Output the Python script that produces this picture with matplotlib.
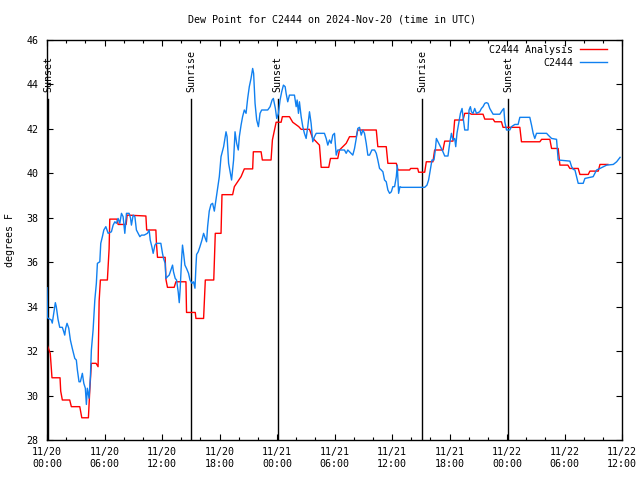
import matplotlib
matplotlib.use("Agg")
import matplotlib.pyplot as plt

# hours since 11/20 00:00 UTC, dew point in degrees F
analyse_t = [0.0, 0.34, 0.52, 1.36, 1.43, 1.6, 2.37, 2.54, 3.42, 3.63, 4.32, 4.46, 4.63,
             5.12, 5.33, 5.44, 5.57, 6.30, 6.48, 6.55, 7.32, 7.42, 8.26, 8.36, 10.32, 10.40,
             11.36, 11.42, 11.53, 12.33, 12.41, 12.57, 13.27, 13.45, 14.50, 14.56, 15.47,
             15.54, 16.34, 16.52, 17.40, 17.56, 18.16, 18.26, 19.37, 19.55, 20.25, 20.59,
             21.46, 21.53, 22.34, 22.47, 23.38, 23.52, 23.91, 24.43, 24.56, 25.30, 25.64,
             26.27, 26.52, 27.39, 27.70, 28.43, 28.61, 29.40, 29.58, 30.34, 30.52, 31.22,
             31.57, 32.27, 32.43, 34.36, 34.52, 35.40, 35.57, 36.45, 36.62, 37.84, 37.94,
             38.68, 38.78, 39.41, 39.58, 40.27, 40.45, 41.32, 41.50, 42.36, 42.54, 43.41,
             43.59, 44.11, 44.29, 45.50, 45.68, 46.55, 46.72, 47.42, 47.59, 49.34, 49.51,
             51.43, 51.61, 52.47, 52.65, 53.34, 53.52, 54.35, 54.56, 55.43, 55.61, 56.48,
             56.65, 57.52, 57.70, 58.53]
analyse_u = [32.3, 31.9, 30.8, 30.8, 30.2, 29.8, 29.8, 29.5, 29.5, 29.0, 29.0, 30.2, 31.45,
             31.45, 31.3, 34.25, 35.2, 35.2, 36.6, 37.94, 37.94, 37.7, 37.7, 38.12, 38.08, 37.45,
             37.45, 36.85, 36.22, 36.22, 35.23, 34.87, 34.87, 35.12, 35.12, 33.74, 33.74,
             33.47, 33.47, 35.2, 35.2, 37.3, 37.3, 39.04, 39.04, 39.4, 39.85, 40.2,
             40.2, 40.97, 40.97, 40.6, 40.6, 41.5, 42.3, 42.3, 42.55, 42.55, 42.3,
             42.1, 41.98, 41.98, 41.6, 41.27, 40.27, 40.27, 40.67, 40.67, 41.05, 41.35,
             41.65, 41.65, 41.95, 41.95, 41.2, 41.2, 40.45, 40.45, 40.15, 40.15, 40.22,
             40.22, 40.05, 40.05, 40.52, 40.52, 41.05, 41.05, 41.45, 41.45, 42.4, 42.4,
             42.7, 42.7, 42.66, 42.66, 42.44, 42.44, 42.32, 42.32, 42.07, 42.07, 41.42,
             41.42, 41.53, 41.53, 41.12, 41.12, 40.37, 40.37, 40.22, 40.22, 39.95, 39.95,
             40.1, 40.1, 40.4, 40.4]

station_t = [0.0, 0.05, 0.45, 0.55, 0.70, 0.87, 0.97, 1.15, 1.33, 1.60, 1.75, 1.85, 1.95,
             2.09, 2.27, 2.44, 2.64, 2.90, 3.06, 3.17, 3.34, 3.48, 3.69, 3.84, 4.00, 4.11,
             4.21, 4.39, 4.53, 4.63, 4.81, 4.99, 5.15, 5.26, 5.51, 5.61, 5.78, 5.93, 6.14,
             6.38, 6.72, 6.90, 7.08, 7.24, 7.42, 7.60, 7.77, 7.94, 8.12, 8.29, 8.57, 8.71,
             8.81, 8.99, 9.17, 9.33, 9.51, 9.69, 9.86, 10.14, 10.48, 10.66, 10.77, 10.94,
             11.08, 11.26, 11.42, 11.88, 12.05, 12.16, 12.33, 12.41, 12.57, 12.75, 12.93,
             13.10, 13.20, 13.38, 13.52, 13.69, 13.80, 13.90, 14.04, 14.14, 14.25, 14.39,
             14.56, 14.77, 14.92, 15.13, 15.29, 15.44, 15.54, 15.61, 15.78, 15.96, 16.17,
             16.34, 16.52, 16.65, 16.76, 16.93, 17.11, 17.28, 17.46, 17.63, 17.98, 18.16,
             18.43, 18.68, 18.79, 18.95, 19.13, 19.26, 19.47, 19.62, 19.79, 19.96, 20.07,
             20.25, 20.41, 20.59, 20.77, 20.94, 21.11, 21.29, 21.46, 21.56, 21.71, 21.88,
             22.06, 22.23, 22.40, 23.03, 23.28, 23.49, 23.62, 23.83, 23.97, 24.15, 24.32,
             24.49, 24.67, 24.85, 24.95, 25.12, 25.30, 25.82, 26.00, 26.10, 26.24, 26.34,
             26.52, 26.69, 26.86, 27.04, 27.21, 27.39, 27.56, 27.73, 27.91, 28.09, 28.95,
             29.13, 29.30, 29.48, 29.65, 29.82, 30.00, 30.18, 30.34, 31.04, 31.22, 31.39,
             31.57, 31.91, 32.09, 32.27, 32.43, 32.61, 32.79, 32.96, 33.13, 33.31, 33.48,
             33.66, 33.90, 34.18, 34.36, 34.52, 34.70, 34.88, 35.05, 35.22, 35.40, 35.57,
             35.75, 35.93, 36.09, 36.27, 36.45, 36.55, 36.69, 36.83, 36.97, 39.41, 39.65,
             39.82, 40.00, 40.17, 40.38, 40.52, 40.63, 40.80, 41.05, 41.32, 41.50, 41.84,
             42.02, 42.20, 42.36, 42.54, 42.65, 42.78, 42.96, 43.14, 43.31, 43.41, 43.59,
             43.93, 44.04, 44.18, 44.29, 44.46, 44.63, 44.81, 45.15, 45.33, 45.50, 45.68,
             45.85, 46.02, 46.20, 46.55, 47.25, 47.53, 47.67, 47.77, 47.95, 48.29, 48.47,
             48.82, 49.16, 49.34, 50.38, 50.56, 50.73, 50.90, 51.08, 52.13, 52.30, 52.65,
             53.17, 53.34, 54.56, 54.74, 54.91, 55.09, 55.26, 55.43, 55.95, 56.13, 56.65,
             56.99, 57.35, 57.70, 58.40, 59.09, 59.44, 59.80]
station_u = [34.85, 33.5, 33.4, 33.26, 33.7, 34.18, 34.0, 33.43, 33.07, 33.07, 32.87, 32.72, 33.03,
             33.25, 33.03, 32.5, 32.12, 31.67, 31.6, 31.15, 30.62, 30.62, 31.0, 30.55, 30.33, 29.6,
             30.33, 29.88, 30.85, 32.05, 32.95, 34.3, 35.05, 35.95, 36.02, 36.85, 37.15, 37.45, 37.6,
             37.3, 37.37, 37.67, 37.82, 37.75, 37.97, 37.75, 38.2, 38.05, 37.3, 38.2, 38.2, 38.0,
             37.67, 38.12, 38.05, 37.45, 37.3, 37.15, 37.22, 37.22, 37.3, 37.45, 37.0, 36.7,
             36.4, 36.77, 36.85, 36.85, 36.4, 36.17, 35.95, 35.27, 35.35, 35.42, 35.65,
             35.87, 35.57, 35.27, 35.2, 34.67, 34.18, 34.83, 36.1, 36.77, 36.4, 35.87,
             35.72, 35.5, 35.2, 35.05, 35.12, 34.83, 35.8, 36.35, 36.47, 36.7, 37.0,
             37.3, 37.07, 36.92, 37.6, 38.3, 38.6, 38.65, 38.3, 38.8, 39.85, 40.75,
             41.2, 41.87, 41.65, 40.45, 40.0, 39.7, 40.6, 41.87, 41.35, 41.05, 41.65,
             42.17, 42.55, 42.85, 42.7, 43.37, 43.9, 44.27, 44.72, 44.5, 43.15, 42.4,
             42.1, 42.7, 42.85, 42.85, 43.0, 43.3, 43.37, 42.92, 42.47, 42.7, 43.3,
             43.67, 43.97, 43.9, 43.6, 43.22, 43.52, 43.52, 43.0, 43.3, 42.7, 43.22,
             42.55, 42.1, 41.8, 41.57, 42.1, 42.77, 42.25, 41.42, 41.65, 41.8, 41.8,
             41.57, 41.27, 41.5, 41.35, 41.72, 41.8, 40.82, 41.05, 41.05, 40.9, 41.05,
             40.97, 40.82, 41.12, 41.57, 42.02, 42.07, 41.72, 41.95, 41.8, 41.35, 40.82,
             40.82, 41.05, 41.05, 40.9, 40.6, 40.22, 40.15, 40.07, 39.7, 39.62, 39.25,
             39.1, 39.17, 39.4, 39.4, 39.85, 40.37, 39.1, 39.4, 39.37, 39.37, 39.47,
             39.7, 40.15, 40.6, 40.6, 41.05, 41.57, 41.42, 41.2, 40.97, 40.78, 40.78,
             41.35, 41.8, 41.5, 41.57, 41.2, 41.8, 42.25, 42.7, 42.92, 42.55, 41.95,
             41.95, 42.85, 43.0, 42.77, 42.7, 42.92, 42.7, 42.77, 42.92, 43.0, 43.15,
             43.18, 43.15, 42.92, 42.66, 42.66, 42.85, 42.92, 42.32, 41.95, 41.95, 42.1,
             42.2, 42.2, 42.52, 42.52, 42.17, 41.8, 41.57, 41.8, 41.8, 41.72, 41.57,
             41.53, 40.6, 40.55, 40.3, 40.18, 40.15, 39.85, 39.55, 39.55, 39.77, 39.82,
             39.85, 40.15, 40.22, 40.37, 40.4, 40.52, 40.72]

# sunrise / sunset markers
evenements_t = [0.14, 15.02, 24.07, 39.12, 48.11]
evenements_nom = ["Sunset", "Sunrise", "Sunset", "Sunrise", "Sunset"]

ticks_h = [0, 6, 12, 18, 24, 30, 36, 42, 48, 54, 60]
ticks_noms = ["11/20\n00:00", "11/20\n06:00", "11/20\n12:00", "11/20\n18:00",
              "11/21\n00:00", "11/21\n06:00", "11/21\n12:00", "11/21\n18:00",
              "11/22\n00:00", "11/22\n06:00", "11/22\n12:00"]

plt.rcParams['font.family'] = ['DejaVu Sans Mono']
plt.rcParams['font.size'] = 7.2

fig = plt.figure(figsize=(6.4, 4.8), dpi=100)
ax = fig.add_axes([47 / 640, 40 / 480, 575 / 640, 400 / 480])

for t, nom in zip(evenements_t, evenements_nom):
    ax.plot([t, t], [28, 43.33], color='black', lw=1.0, zorder=1)
    ax.text(t, 43.67, nom, rotation=90, ha='center', va='bottom')

ax.plot(analyse_t, analyse_u, color='#ff0000', lw=1.0, label="C2444 Analysis", zorder=2)
ax.plot(station_t, station_u, color='#1080f0', lw=1.0, label="C2444", zorder=3)

ax.set_xlim(0, 60)
ax.set_ylim(28, 46)
ax.set_xticks(ticks_h)
ax.set_xticklabels(ticks_noms)
ax.set_xticks(range(0, 61, 2), minor=True)
ax.set_yticks(range(28, 47, 2))
ax.tick_params(which='both', direction='in', top=True, right=True, width=0.8)
ax.tick_params(which='major', length=4, pad=5)
ax.tick_params(which='minor', length=2.5)
ax.tick_params(axis='y', pad=6)
for s in ax.spines.values():
    s.set_linewidth(1.0)

ax.set_ylabel("degrees F")
ax.yaxis.set_label_coords(-32 / 575, 0.5)
fig.text(332 / 640, 1 - 20 / 480, "Dew Point for C2444 on 2024-Nov-20 (time in UTC)",
         ha='center', va='center')

# markerfirst=False: texte a gauche, aligne a droite comme gnuplot
leg = ax.legend(loc='upper right', markerfirst=False, frameon=False, handlelength=2.7,
                handletextpad=0.7, borderaxespad=0.3, borderpad=0.2, labelspacing=0.3)
leg.set_bbox_to_anchor((1 - 10 / 575, 1.0), transform=ax.transAxes)

plt.savefig("out.png", dpi=100)
